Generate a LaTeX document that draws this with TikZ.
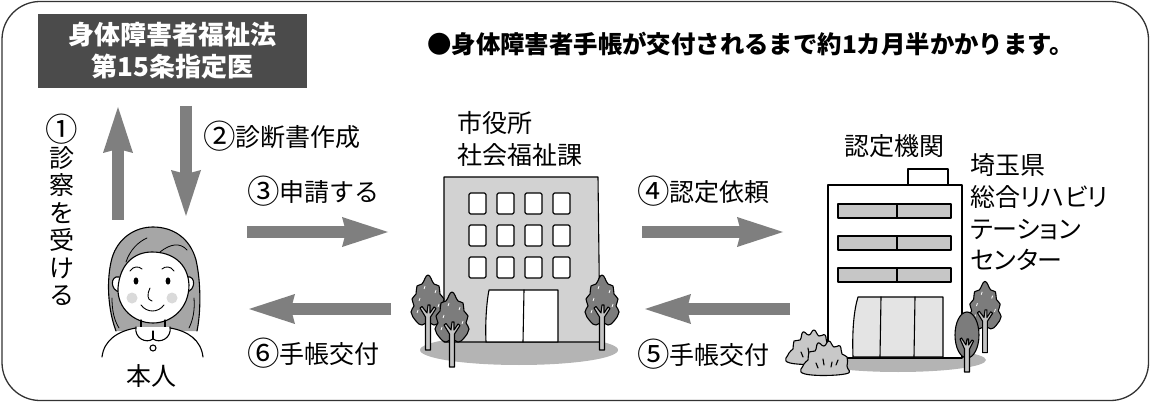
\documentclass[tikz,border=0pt]{standalone}
\usepackage{fontspec}
\setmainfont{Noto Sans CJK JP}
\newfontfamily\kanafont[RawFeature=+palt]{Noto Sans CJK JP}
\newcommand{\stepno}[1]{\raisebox{-1.8pt}{\scalebox{1.3}{#1}}}
\usetikzlibrary{arrows.meta}

\definecolor{framecol}{HTML}{333333}
\definecolor{boxgray}{HTML}{4B4B4B}
\definecolor{arrowgray}{HTML}{7F7F7F}
\definecolor{wallgray}{HTML}{D2D2D2}
\definecolor{groundgray}{HTML}{B4B4B4}
\definecolor{bandgray}{HTML}{C6C6C6}
\definecolor{doorgray}{HTML}{E4E4E4}
\definecolor{crowngray}{HTML}{7C7C7C}
\definecolor{trunkgray}{HTML}{C4C4C4}
\definecolor{hairgray}{HTML}{A6A6A6}
\definecolor{cheekgray}{HTML}{DADADA}
\definecolor{bushgray}{HTML}{C8C8C8}

\begin{document}
\begin{tikzpicture}[x=1pt,y=-1pt,
  txt/.style={inner sep=0pt, text=black, font=\fontsize{25}{32}\selectfont},
  flow/.style={draw=arrowgray, line width=12pt,
    -{Stealth[length=46pt,width=30pt,inset=4pt,line width=0pt]}},
  ink/.style={draw=black, line width=1.1pt, line join=round, line cap=round},
  pane/.style={ink, fill=white, rounded corners=1.5pt},
  tuft/.pic={
    \draw[ink, fill=crowngray] plot[smooth cycle, tension=0.8] coordinates {(0,-28) (-6,-19) (-11,-17) (-12,-9) (-16,-4) (-14,3) (-17,9) (-12,18) (-6,22) (0,19) (6,22) (12,18) (17,9) (14,3) (16,-4) (12,-9) (11,-17) (6,-19)};
    \draw[white, line width=0.8pt] (-9,-2) -- (-8,-5) (7,-10) -- (8,-13) (-4,-14) -- (-3,-17) (10,4) -- (11,1) (-11,10) -- (-10,7);
    \draw[ink, fill=trunkgray] (-2.5,47) -- (-2.5,14) -- (-8,5) -- (-6,3.5) -- (-1,10) -- (0,2) -- (2,2) -- (2,10) -- (6,4) -- (8,5.5) -- (2.5,14) -- (2.5,47) -- cycle;
  },
  egg/.pic={
    \draw[ink, fill=crowngray] (0,0) ellipse [x radius=12, y radius=23];
    \draw[ink, fill=trunkgray] (-2.5,37) -- (-2.5,14) -- (-7,4) -- (-5.5,3) -- (-1,10) -- (0,4) -- (1.5,4) -- (1.5,10) -- (5,5) -- (6.5,6) -- (2.5,14) -- (2.5,37) -- cycle;
  },
  clump/.pic={
    \draw[ink, fill=bushgray] plot[smooth cycle, tension=0.8] coordinates {(-21,16) (-22,6) (-18,2) (-17,-6) (-11,-7) (-8,-15) (-2,-12) (3,-17) (8,-11) (14,-12) (16,-4) (21,-1) (21,8) (19,16)};
    \draw[ink] (-10,5) -- (-8,10) (-3,1) -- (-2,7) (6,4) -- (5,9) (12,2) -- (10,7);
  }]
\useasboundingbox (0,0) rectangle (1151,406);

% outer frame
\draw[framecol, line width=1.3pt, rounded corners=38pt] (2,1.5) rectangle (1148.5,400.5);

% doctor box and note
\node[fill=boxgray, text=white, minimum width=269pt, minimum height=74pt, align=center,
  inner sep=0pt, font=\fontsize{26}{32}\selectfont\bfseries] (doctor) at (172.5,51)
  {身体障害者福祉法\\第15条指定医};
\node[anchor=west, inner sep=0pt, font=\fontsize{24.4}{28}\selectfont\bfseries] (note) at (427,44)
  {●身体障害者手帳が交付されるまで約1カ月半かかります。};

% the person
\fill[hairgray] (116,331) .. controls (108,310) and (106,280) .. (112,258) .. controls (118,238) and (135,227) .. (153,227) .. controls (173,227) and (190,238) .. (196,260) .. controls (201,282) and (201,312) .. (197,331) -- cycle;
\draw[ink] (116,331) .. controls (108,310) and (106,280) .. (112,258) .. controls (118,238) and (135,227) .. (153,227) .. controls (173,227) and (190,238) .. (196,260) .. controls (201,282) and (201,312) .. (197,331);
\draw[ink, line width=0.8pt] (112,298) .. controls (112,310) and (114,320) .. (119,328)
  (194,298) .. controls (195,310) and (193,320) .. (189,328)
  (126,262) .. controls (130,250) and (138,242) .. (147,238)
  (160,252) .. controls (170,244) and (180,242) .. (187,250);
\draw[ink, fill=white] (119,277) .. controls (110,275) and (110,291) .. (120,292);
\draw[ink, fill=white] (187,277) .. controls (196,275) and (196,291) .. (186,292);
\draw[ink, fill=white] (118,288) .. controls (120,263) and (135,252) .. (152,252) .. controls (172,252) and (188,263) .. (189,285) .. controls (189,308) and (172,323) .. (153,323) .. controls (134,323) and (117,308) .. (118,288);
\fill[cheekgray] (132,298) circle [radius=5.5] (172,298) circle [radius=5.5];
\fill (136,281) ellipse [x radius=2.4, y radius=3.6] (168,281) ellipse [x radius=2.4, y radius=3.6];
\draw[ink, line width=0.9pt] (130,271) .. controls (133,266) and (139,266) .. (142,269)
  (162,269) .. controls (165,266) and (171,266) .. (174,271)
  (150,288) .. controls (147,294) and (147,300) .. (152,301)
  (141,305) .. controls (147,313) and (158,313) .. (164,305);
\draw[ink] (141,320) -- (141,329) (165,320) -- (165,329);
\draw[ink, fill=white] (102,357) .. controls (104,340) and (118,331) .. (136,328) -- (170,328) .. controls (188,331) and (201,340) .. (203,357);
\draw[ink, fill=white] (136,327) .. controls (134,338) and (146,344) .. (153,339) .. controls (160,344) and (172,338) .. (170,327);
\draw[ink] (153,339) -- (153,331);
\draw[ink, fill=white] (153,348) circle [radius=3];

% city hall
\fill[groundgray] (519,350) ellipse [x radius=99, y radius=15];
\draw[ink, fill=wallgray] (444,177) -- (598,177) -- (600,342) -- (444,342) -- cycle;
\foreach \wy in {193,225,257}
  \foreach \wx in {469,497,525,553}
    \draw[pane] (\wx,\wy) rectangle ++(17,21);
\draw[ink, fill=white] (489,290) -- (558,290) -- (558,342) -- (486,342) .. controls (485,320) and (487,300) .. (489,290);
\draw[ink] (524,290) -- (523,342);
\pic at (428,303) {tuft};
\pic at (452,320) {tuft};
\pic at (602,303) {tuft};

% rehabilitation centre
\fill[groundgray] (898,360) ellipse [x radius=88, y radius=12];
\draw[ink, fill=white] (908,185) -- (908,169) -- (948,169) -- (948,185);
\draw[ink, fill=white] (828,185) rectangle (962,358);
\foreach \by in {204,236,268}
  \draw[ink, fill=bandgray] (838,\by) rectangle (951,\by+14) (897,\by) -- (897,\by+14);
\draw[ink, fill=doorgray] (858,297) -- (943,297) -- (943,357) -- (853,357) .. controls (852,330) and (854,310) .. (858,297);
\draw[ink] (881,297) -- (880,357) (915,297) -- (914,357);
\pic at (811,347) {clump};
\pic at (826,358) {clump};
\pic[scale=0.95] at (985,308) {tuft};
\pic at (967,335) {egg};

% arrows
\coordinate (up0) at (118,220);
\coordinate (up1) at (118,107);
\coordinate (dn0) at (186,106);
\coordinate (dn1) at (186,216);
\coordinate (ap0) at (247,232);
\coordinate (ap1) at (388,232);
\coordinate (gv0) at (391,309);
\coordinate (gv1) at (249,309);
\coordinate (rq0) at (642,232);
\coordinate (rq1) at (783,232);
\coordinate (rt0) at (790,309);
\coordinate (rt1) at (645,309);
\draw[flow] (up0) -- (up1);
\draw[flow] (dn0) -- (dn1);
\draw[flow] (ap0) -- (ap1);
\draw[flow] (gv0) -- (gv1);
\draw[flow] (rq0) -- (rq1);
\draw[flow] (rt0) -- (rt1);

% labels
\node[txt, align=center, font=\fontsize{25}{27.4}\selectfont] (exam) at (62,210) {\stepno{①}\\診\\察\\を\\受\\け\\る};
\node[txt, anchor=west] (cert) at (203,136) {\stepno{②}診断書作成};
\node[txt, anchor=west] (apply) at (247,191) {\stepno{③}申請する};
\node[txt, anchor=west] (ask) at (637,191) {\stepno{④}認定依頼};
\node[txt, anchor=west] (issue5) at (637,354) {\stepno{⑤}手帳交付};
\node[txt, anchor=west] (issue6) at (247,353) {\stepno{⑥}手帳交付};
\node[txt] (self) at (151,376) {本人};
\node[txt, anchor=west, align=left] (city) at (457,139) {市役所\\社会福祉課};
\node[txt] (agency) at (894,146) {認定機関};
\node[txt, anchor=west, align=left, font=\fontsize{25}{31.7}\kanafont] (rehab) at (970,212.5) {埼玉県\\総合リハビリ\\テーション\\センター};
\end{tikzpicture}
\end{document}
